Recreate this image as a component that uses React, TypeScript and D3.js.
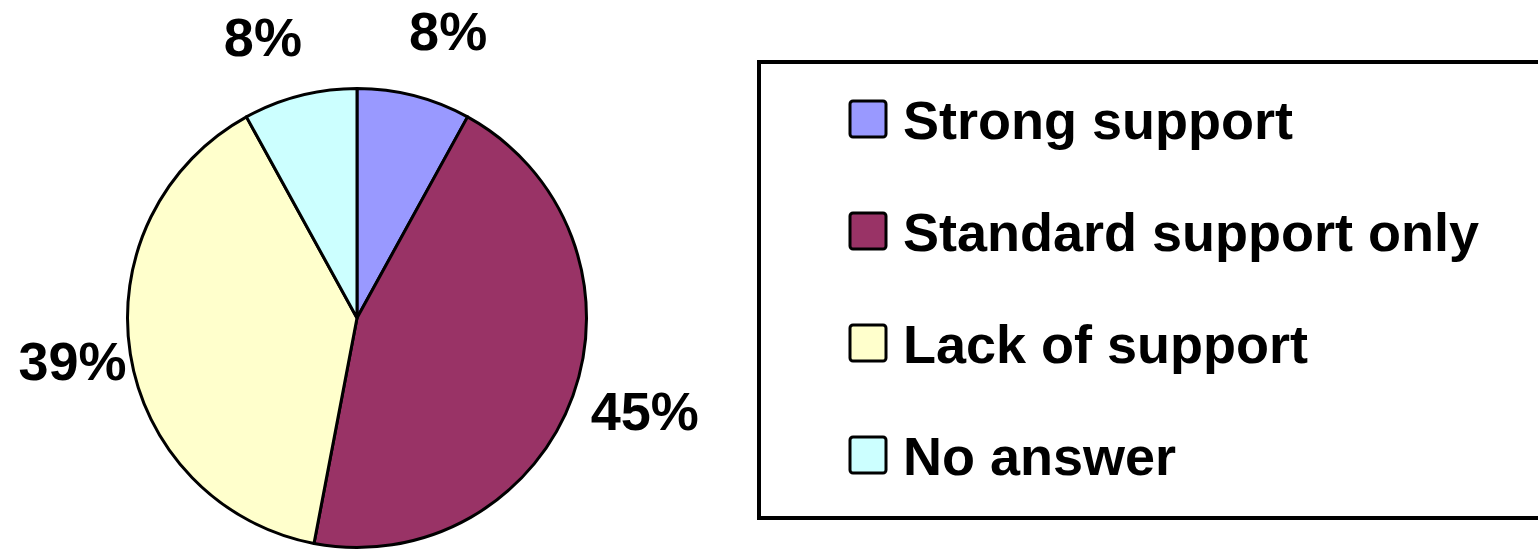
import React from "react";
import * as d3 from "d3";

const categories = ["Strong support", "Standard support only", "Lack of support", "No answer"];
const values = [8, 45, 39, 8];
const colors = ["#9999FF", "#993366", "#FFFFCC", "#CCFFFF"];

const W = 1538;
const H = 550;
const cx = 357;
const cy = 318;
const R = 229.5;
const labelR = 290;
// small manual offsets that mimic Excel's label placement (px)
const labelNudgeX = [19, 15, 2, -22];
const labelNudgeY = [-6, -5, -2, 0];
const FONT = "'Liberation Sans', Arial, sans-serif";

export default function App() {
  const pie = d3.pie<number>().sort(null).value((d) => d).startAngle(0).endAngle(2 * Math.PI);
  const arcs = pie(values);
  const arc = d3.arc<d3.PieArcDatum<number>>().innerRadius(0).outerRadius(R);
  const labelArc = d3.arc<d3.PieArcDatum<number>>().innerRadius(labelR).outerRadius(labelR);
  const total = d3.sum(values);

  const legendX = 850;
  const legendY0 = 101;
  const legendStep = 112;
  const sw = 36;

  return (
    <svg
      width={W}
      height={H}
      style={{ position: "fixed", left: 0, top: 0, background: "#fff" }}
      fontFamily={FONT}
    >
      <rect x={0} y={0} width={W} height={H} fill="#fff" />
      <g transform={`translate(${cx},${cy})`}>
        {arcs.map((a, i) => (
          <path key={i} d={arc(a) || ""} fill={colors[i]} stroke="#000" strokeWidth={3} strokeLinejoin="round" />
        ))}
        {arcs.map((a, i) => {
          const [x, y] = labelArc.centroid(a);
          return (
            <text
              key={"l" + i}
              x={x + labelNudgeX[i]}
              y={y + 19 + labelNudgeY[i]}
              textAnchor="middle"
              fontSize={54}
              fontWeight="bold"
              fill="#000"
            >
              {`${Math.round((a.data / total) * 100)}%`}
            </text>
          );
        })}
      </g>
      <rect x={759} y={62} width={900} height={456} fill="none" stroke="#000" strokeWidth={4} />
      {categories.map((c, i) => {
        const y = legendY0 + i * legendStep;
        return (
          <g key={c}>
            <rect x={legendX} y={y} width={sw} height={sw} rx={3} fill={colors[i]} stroke="#000" strokeWidth={3} />
            <text x={903} y={y + sw + 2} fontSize={54} fontWeight="bold" fill="#000">
              {c}
            </text>
          </g>
        );
      })}
    </svg>
  );
}
